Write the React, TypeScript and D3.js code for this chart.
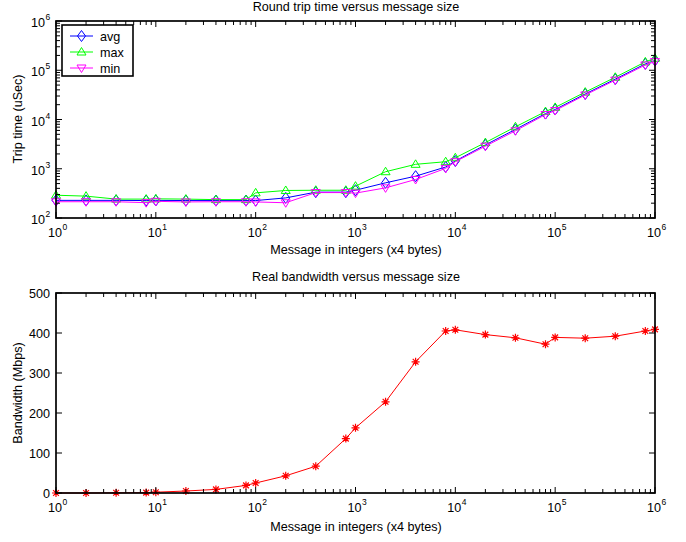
import React from "react";
import { scaleLog, scaleLinear, line } from "d3";

// message sizes (integers)
const sizes = [1, 2, 4, 8, 10, 20, 40, 80, 100, 200, 400, 800, 1000, 2000, 4000, 8000, 10000, 20000, 40000, 80000, 100000, 200000, 400000, 800000, 1000000];
// round trip times (uSec)
const avgTime = [228, 228, 228, 226, 228, 226, 226, 226, 226, 256, 335, 335, 367, 518, 707, 1085, 1435, 3050, 6300, 13200, 16000, 33000, 66000, 135000, 158000];
const maxTime = [290, 278, 242, 242, 245, 242, 236, 236, 324, 362, 366, 366, 443, 870, 1230, 1390, 1670, 3400, 7100, 14500, 17600, 36000, 72000, 148000, 175000];
const minTime = [214, 214, 214, 205, 218, 212, 214, 214, 212, 204, 328, 328, 320, 409, 605, 1018, 1390, 2870, 5900, 12600, 15200, 31500, 63000, 128000, 150000];
// bandwidth (Mbps)
const bandwidth = [0, 0, 0.5, 1, 2, 5, 9, 19, 25, 43, 67, 136, 163, 228, 328, 405, 408, 396, 388, 372, 389, 387, 392, 405, 409];

const decades = [0, 1, 2, 3, 4, 5, 6];
const topYDecades = [2, 3, 4, 5, 6];
const bwTicks = [0, 100, 200, 300, 400, 500];

const font = "Liberation Sans, Arial, sans-serif";
const fs = 12.6;
const L = 56, R = 655;

const x = scaleLog().domain([1, 1e6]).range([L, R]);
const yTop = scaleLog().domain([100, 1e6]).range([218, 21]);
const yBot = scaleLinear().domain([0, 500]).range([493, 293]);

const minorOf = (lo: number, hi: number) => {
  const out: number[] = [];
  for (let d = lo; d < hi; d++) for (let k = 2; k <= 9; k++) out.push(k * Math.pow(10, d));
  return out;
};

const Diamond = ({ cx, cy, c }: any) => (
  <path d={`M${cx},${cy - 5.5}L${cx + 4},${cy}L${cx},${cy + 5.5}L${cx - 4},${cy}Z`} fill="none" stroke={c} strokeWidth={1} />
);
const TriUp = ({ cx, cy, c }: any) => (
  <path d={`M${cx},${cy - 4.5}L${cx + 4.5},${cy + 3}L${cx - 4.5},${cy + 3}Z`} fill="none" stroke={c} strokeWidth={1} />
);
const TriDown = ({ cx, cy, c }: any) => (
  <path d={`M${cx},${cy + 4.5}L${cx + 4.5},${cy - 3}L${cx - 4.5},${cy - 3}Z`} fill="none" stroke={c} strokeWidth={1} />
);
const Star = ({ cx, cy, c }: any) => {
  const r = 4;
  const d = r * 0.72;
  return (
    <path
      d={`M${cx - r},${cy}L${cx + r},${cy}M${cx},${cy - r}L${cx},${cy + r}M${cx - d},${cy - d}L${cx + d},${cy + d}M${cx - d},${cy + d}L${cx + d},${cy - d}`}
      stroke={c}
      strokeWidth={1.2}
    />
  );
};

const LogXAxis = ({ top, bottom }: { top: number; bottom: number }) => (
  <g stroke="#000" strokeWidth={1}>
    {decades.map((d) => {
      const px = x(Math.pow(10, d));
      return (
        <g key={d}>
          <line x1={px} x2={px} y1={bottom} y2={bottom - 6} />
          <line x1={px} x2={px} y1={top} y2={top + 6} />
        </g>
      );
    })}
    {minorOf(0, 6).map((v, i) => {
      const px = x(v);
      return (
        <g key={"m" + i}>
          <line x1={px} x2={px} y1={bottom} y2={bottom - 4} />
          <line x1={px} x2={px} y1={top} y2={top + 4} />
        </g>
      );
    })}
    {decades.map((d) => (
      <g key={"l" + d} stroke="none" fill="#000" fontFamily={font}>
        <text x={x(Math.pow(10, d)) - 1} y={bottom + 19} textAnchor="middle" fontSize={fs}>10</text>
        <text x={x(Math.pow(10, d)) + 6.5} y={bottom + 12} fontSize={8.5}>{d}</text>
      </g>
    ))}
  </g>
);

export default function App() {
  const lt = line<number>().x((_, i) => x(sizes[i])).y((v) => yTop(v));
  const lb = line<number>().x((_, i) => x(sizes[i])).y((v) => yBot(v));
  const series = [
    { name: "avg", data: avgTime, c: "#0000ff", M: Diamond },
    { name: "max", data: maxTime, c: "#00ff00", M: TriUp },
    { name: "min", data: minTime, c: "#ff00ff", M: TriDown },
  ];
  return (
    <svg width={686} height={542} style={{ position: "absolute", left: 0, top: 0, background: "#fff" }}>
      <rect width={686} height={542} fill="#fff" />
      {/* ---- top chart ---- */}
      <text x={356} y={11} textAnchor="middle" fontFamily={font} fontSize={fs}>Round trip time versus message size</text>
      {series.map((s) => (
        <g key={s.name}>
          <path d={lt(s.data) || ""} fill="none" stroke={s.c} strokeWidth={1} />
          {s.data.map((v, i) => (
            <s.M key={i} cx={x(sizes[i])} cy={yTop(v)} c={s.c} />
          ))}
        </g>
      ))}
      <g stroke="#000" strokeWidth={1}>
        {topYDecades.map((d) => {
          const py = yTop(Math.pow(10, d));
          return (
            <g key={d}>
              <line x1={L} x2={L + 6} y1={py} y2={py} />
              <line x1={R} x2={R - 6} y1={py} y2={py} />
            </g>
          );
        })}
        {minorOf(2, 6).map((v, i) => {
          const py = yTop(v);
          return (
            <g key={"m" + i}>
              <line x1={L} x2={L + 4} y1={py} y2={py} />
              <line x1={R} x2={R - 4} y1={py} y2={py} />
            </g>
          );
        })}
      </g>
      {topYDecades.map((d) => (
        <g key={"yl" + d} fontFamily={font}>
          <text x={45} y={yTop(Math.pow(10, d)) + 6} textAnchor="end" fontSize={fs}>10</text>
          <text x={45.5} y={yTop(Math.pow(10, d)) - 1} fontSize={8.5}>{d}</text>
        </g>
      ))}
      <LogXAxis top={21} bottom={218} />
      <rect x={L} y={21} width={R - L} height={197} fill="none" stroke="#000" strokeWidth={1.7} />
      <text x={356} y={254} textAnchor="middle" fontFamily={font} fontSize={fs}>Message in integers (x4 bytes)</text>
      <text transform={`translate(22,119) rotate(-90)`} textAnchor="middle" fontFamily={font} fontSize={fs}>Trip time (uSec)</text>
      {/* legend */}
      <rect x={62} y={25} width={71} height={51} fill="#fff" stroke="#000" strokeWidth={1.6} />
      {series.map((s, i) => {
        const ly = 36 + i * 16;
        return (
          <g key={"lg" + s.name}>
            <line x1={70} x2={93} y1={ly} y2={ly} stroke={s.c} strokeWidth={1} />
            <s.M cx={81.5} cy={ly} c={s.c} />
            <text x={100} y={ly + 4.5} fontFamily={font} fontSize={fs}>{s.name}</text>
          </g>
        );
      })}

      {/* ---- bottom chart ---- */}
      <text x={356} y={281} textAnchor="middle" fontFamily={font} fontSize={fs}>Real bandwidth versus message size</text>
      <path d={lb(bandwidth) || ""} fill="none" stroke="#ff0000" strokeWidth={1} />
      {bandwidth.map((v, i) => (
        <Star key={i} cx={x(sizes[i])} cy={yBot(v)} c="#ff0000" />
      ))}
      <g stroke="#000" strokeWidth={1}>
        {bwTicks.map((t) => (
          <g key={t}>
            <line x1={L} x2={L + 6} y1={yBot(t)} y2={yBot(t)} />
            <line x1={R} x2={R - 6} y1={yBot(t)} y2={yBot(t)} />
          </g>
        ))}
      </g>
      {bwTicks.map((t) => (
        <text key={"bl" + t} x={50} y={yBot(t) + 4.5} textAnchor="end" fontFamily={font} fontSize={fs}>{t}</text>
      ))}
      <LogXAxis top={293} bottom={493} />
      <rect x={L} y={293} width={R - L} height={200} fill="none" stroke="#000" strokeWidth={1.7} />
      <text x={356} y={531} textAnchor="middle" fontFamily={font} fontSize={fs}>Message in integers (x4 bytes)</text>
      <text transform={`translate(22,393) rotate(-90)`} textAnchor="middle" fontFamily={font} fontSize={fs}>Bandwidth (Mbps)</text>
    </svg>
  );
}
